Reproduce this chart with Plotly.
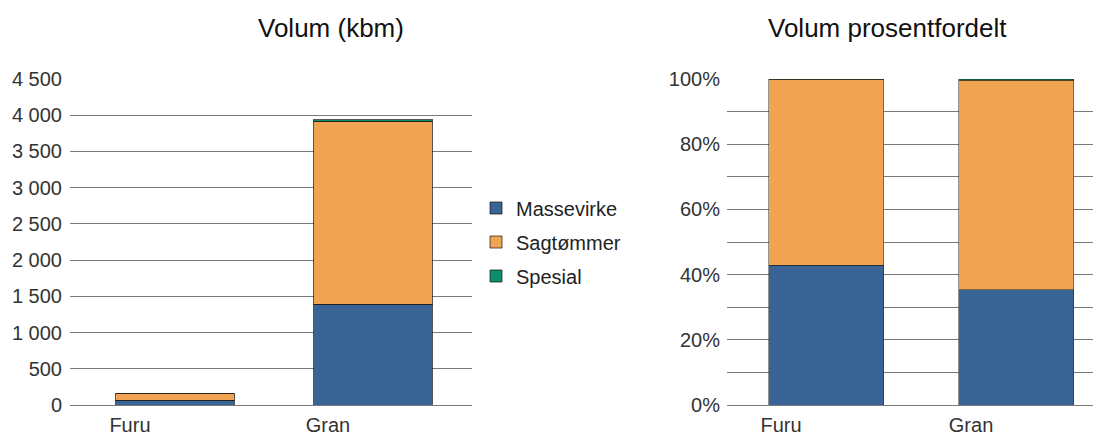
import plotly.graph_objects as go

categories = ["Furu", "Gran"]
series_names = ["Massevirke", "Sagtømmer", "Spesial"]
massevirke = [69, 1390]
sagtommer = [92, 2529]
spesial = [0, 18]
colors = ["#386595", "#f0a452", "#0e8f6b"]

# page body has an 8px margin, so work in coordinates shifted by 8px
OFF = 8
W, H = 1101 - OFF, 439 - OFF
series = [massevirke, sagtommer, spesial]
totals = [sum(v[i] for v in series) for i in range(len(categories))]

fig = go.Figure()
for name, vals, col in zip(series_names, series, colors):
    fig.add_trace(go.Bar(
        x=categories, y=vals, name=name, legendgroup=name, width=0.6,
        marker=dict(color=col, line=dict(color="rgba(30,30,30,0.75)", width=1)),
        xaxis="x", yaxis="y", showlegend=True))
for name, vals, col in zip(series_names, series, colors):
    pct = [vals[i] / totals[i] * 100 for i in range(len(categories))]
    fig.add_trace(go.Bar(
        x=categories, y=pct, name=name, legendgroup=name, width=0.605,
        marker=dict(color=col, line=dict(color="rgba(30,30,30,0.6)", width=0.8)),
        xaxis="x2", yaxis="y2", showlegend=False))

font = "Liberation Sans, Arial, sans-serif"
grid = "#7a7a7a"
tickfont = dict(family=font, size=20, color="#333333")

top = 79 - OFF
bottom_px = 405 - OFF
plot_h = bottom_px - top

def px_x(x):
    return (x - OFF) / W

def px_y(y):
    return (bottom_px - (y - OFF)) / plot_h

fig.update_layout(
    width=W, height=H,
    margin=dict(l=0, r=0, t=top, b=H - bottom_px),
    paper_bgcolor="white", plot_bgcolor="white",
    barmode="stack",
    separators=", ",
    font=dict(family=font, size=20, color="#222222"),
    showlegend=True,
    legend=dict(x=px_x(476), y=px_y(242), xanchor="left", yanchor="middle",
                font=dict(family=font, size=20, color="#222222"),
                traceorder="grouped", tracegroupgap=5,
                itemwidth=30, bgcolor="rgba(0,0,0,0)"),
    xaxis=dict(domain=[px_x(70), px_x(472)], anchor="y", type="category",
               range=[-0.53, 1.50],
               showgrid=False, zeroline=False, showline=False, ticks="",
               tickfont=tickfont, ticklabelshift=-45, ticklabelstandoff=6),
    yaxis=dict(domain=[0, 1], anchor="x", range=[0, 4500], dtick=500,
               tickformat=",d", showgrid=True, gridcolor=grid, gridwidth=1,
               zeroline=True, zerolinecolor=grid, zerolinewidth=1,
               showline=False, ticks="", tickfont=tickfont,
               ticklabelstandoff=7),
    xaxis2=dict(domain=[px_x(727), 1.0], anchor="y2", type="category",
                range=[-0.521, 1.447],
                showgrid=False, zeroline=False, showline=False, ticks="",
                tickfont=tickfont, ticklabelshift=-45, ticklabelstandoff=6),
    yaxis2=dict(domain=[0, 1], anchor="x2", range=[0, 100], dtick=20,
                ticksuffix="%", showgrid=True, gridcolor=grid, gridwidth=1,
                zeroline=True, zerolinecolor=grid, zerolinewidth=1,
                minor=dict(dtick=10, showgrid=True, gridcolor=grid, gridwidth=1),
                showline=False, ticks="", tickfont=tickfont,
                ticklabelstandoff=6),
    annotations=[
        dict(text="Volum (kbm)", x=px_x(331), y=px_y(28), xref="paper", yref="paper",
             xanchor="center", yanchor="middle", showarrow=False,
             font=dict(family=font, size=26, color="#111111")),
        dict(text="Volum prosentfordelt", x=px_x(888), y=px_y(28), xref="paper", yref="paper",
             xanchor="center", yanchor="middle", showarrow=False,
             font=dict(family=font, size=26, color="#111111")),
    ],
)

fig.write_html("out.html")
